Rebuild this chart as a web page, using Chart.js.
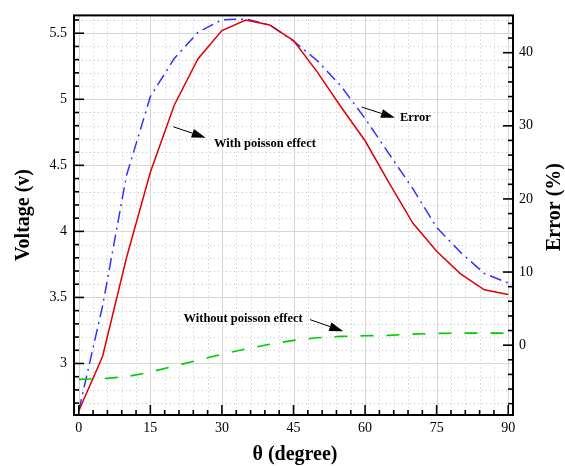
<!DOCTYPE html>
<html><head><meta charset="utf-8">
<script src="https://cdn.jsdelivr.net/npm/chart.js@4.4.0/dist/chart.umd.min.js"></script>
<style>html,body{margin:0;padding:0;background:#fff}#wrap{width:565px;height:466px}</style>
</head><body><div id="wrap"><canvas id="c" width="565" height="466"></canvas></div>
<script>
// ---- data ----
const theta          = [0, 5, 10, 15, 20, 25, 30, 35, 40, 45, 50, 55, 60, 65, 70, 75, 80, 85, 90];
const withPoisson    = [2.64, 3.055, 3.80, 4.447, 4.955, 5.307, 5.52, 5.60, 5.563, 5.445, 5.206, 4.94, 4.686, 4.37, 4.063, 3.849, 3.678, 3.558, 3.522];
const withoutPoisson = [2.88, 2.885, 2.90, 2.935, 2.98, 3.025, 3.07, 3.11, 3.145, 3.175, 3.195, 3.205, 3.21, 3.213, 3.222, 3.228, 3.23, 3.23, 3.23];
const errorPct       = [-8.97, 5.4, 23.2, 34.0, 39.2, 42.8, 44.5, 44.6, 43.8, 41.6, 38.9, 35.4, 31.0, 26.2, 21.4, 16.1, 12.7, 9.8, 8.5];
const xTickLabels    = [0, 15, 30, 45, 60, 75, 90];
const voltTickLabels = [3, 3.5, 4, 4.5, 5, 5.5];
const errTickLabels  = [0, 10, 20, 30, 40];

const SERIF = '"Liberation Serif", "Times New Roman", serif';

const annotations = [
  {text: 'With poisson effect',    tx: 28.34, ty: 4.664, x1: 19.81, y1: 4.792, x2: 26.6,  y2: 4.709},
  {text: 'Error',                  tx: 67.3,  ty: 4.860, x1: 59.29, y1: 4.941, x2: 66.26, y2: 4.860},
  {text: 'Without poisson effect', tx: 21.95, ty: 3.342, x1: 48.46, y1: 3.332, x2: 55.43, y2: 3.244}
];

function steps(a, b, s) { const r = []; const n = Math.round((b - a) / s); for (let i = 0; i <= n; i++) r.push(+(a + i * s).toFixed(6)); return r; }
function isMajor(v, list) { return list.some(m => Math.abs(m - v) < 1e-6); }

const gridPlugin = {
  id: 'customGrid',
  beforeDatasetsDraw(chart) {
    const {ctx, chartArea: a, scales} = chart;
    const x = scales.x, yL = scales.yL;
    ctx.save();
    ctx.lineWidth = 1;
    const hl = (px) => { ctx.beginPath(); ctx.moveTo(a.left, px); ctx.lineTo(a.right, px); ctx.stroke(); };
    const vl = (px) => { ctx.beginPath(); ctx.moveTo(px, a.top); ctx.lineTo(px, a.bottom); ctx.stroke(); };
    // minor dotted
    ctx.strokeStyle = '#c4c4c4';
    ctx.setLineDash([1, 3]);
    steps(0, 90, 3).forEach(v => { if (!isMajor(v, xTickLabels)) vl(Math.round(x.getPixelForValue(v)) + 0.5); });
    steps(2.7, 5.6, 0.1).forEach(v => { if (!isMajor(v, voltTickLabels)) hl(Math.round(yL.getPixelForValue(v)) + 0.5); });
    // major solid
    ctx.setLineDash([]);
    ctx.strokeStyle = '#d6d6d6';
    xTickLabels.forEach(v => vl(Math.round(x.getPixelForValue(v)) + 0.5));
    voltTickLabels.forEach(v => hl(Math.round(yL.getPixelForValue(v)) + 0.5));
    ctx.restore();
  },
  afterDatasetsDraw(chart) {
    const {ctx, chartArea: a, scales} = chart;
    const x = scales.x, yL = scales.yL, yR = scales.yR;
    ctx.save();
    ctx.strokeStyle = '#000';
    ctx.lineWidth = 1.6;
    const seg = (x1, y1, x2, y2) => { ctx.beginPath(); ctx.moveTo(x1, y1); ctx.lineTo(x2, y2); ctx.stroke(); };
    steps(0, 90, 3).forEach(v => { const p = x.getPixelForValue(v); const L = isMajor(v, xTickLabels) ? 10 : 5; seg(p, a.bottom, p, a.bottom - L); });
    steps(2.7, 5.6, 0.1).forEach(v => { const p = yL.getPixelForValue(v); const L = isMajor(v, voltTickLabels) ? 10 : 5; seg(a.left, p, a.left + L, p); });
    steps(-8, 44, 2).forEach(v => { const p = yR.getPixelForValue(v); const L = isMajor(v, errTickLabels) ? 10 : 5; seg(a.right, p, a.right - L, p); });
    ctx.lineWidth = 2;
    ctx.strokeRect(a.left, a.top, a.right - a.left, a.bottom - a.top);
    ctx.restore();
  },
  afterDraw(chart) {
    const {ctx, scales} = chart;
    const x = scales.x, yL = scales.yL;
    ctx.save();
    ctx.fillStyle = '#000';
    ctx.strokeStyle = '#000';
    ctx.font = 'bold 12.5px ' + SERIF;
    ctx.textBaseline = 'middle';
    ctx.textAlign = 'left';
    annotations.forEach(an => {
      ctx.fillText(an.text, x.getPixelForValue(an.tx), yL.getPixelForValue(an.ty));
      const sx = x.getPixelForValue(an.x1), sy = yL.getPixelForValue(an.y1);
      const ex = x.getPixelForValue(an.x2), ey = yL.getPixelForValue(an.y2);
      const ang = Math.atan2(ey - sy, ex - sx);
      const hl = 14, hw = 4.5;
      const bx = ex - hl * Math.cos(ang), by = ey - hl * Math.sin(ang);
      ctx.lineWidth = 1;
      ctx.beginPath(); ctx.moveTo(sx, sy); ctx.lineTo(bx, by); ctx.stroke();
      ctx.beginPath();
      ctx.moveTo(ex, ey);
      ctx.lineTo(bx + hw * Math.sin(ang), by - hw * Math.cos(ang));
      ctx.lineTo(bx - hw * Math.sin(ang), by + hw * Math.cos(ang));
      ctx.closePath(); ctx.fill();
    });
    ctx.font = 'bold 20px ' + SERIF;
    ctx.textAlign = 'center';
    ctx.textBaseline = 'middle';
    ctx.fillText('\u03B8 (degree)', 295, 455);
    ctx.save(); ctx.translate(24, 215); ctx.rotate(-Math.PI / 2); ctx.fillText('Voltage (v)', 0, 0); ctx.restore();
    ctx.save(); ctx.translate(555, 207); ctx.rotate(-Math.PI / 2); ctx.fillText('Error (%)', 0, 0); ctx.restore();
    ctx.restore();
  }
};

const tickFont = {family: SERIF, size: 14};
const mk = (arr) => arr.map(v => ({value: v}));
const fmt = (v) => String(v);

new Chart(document.getElementById('c'), {
  type: 'line',
  data: {
    datasets: [
      {label: 'With poisson effect', data: theta.map((t, i) => ({x: t, y: withPoisson[i]})), yAxisID: 'yL',
       borderColor: 'rgb(225,0,0)', borderWidth: 1.5, pointRadius: 0, tension: 0, fill: false},
      {label: 'Without poisson effect', data: theta.map((t, i) => ({x: t, y: withoutPoisson[i]})), yAxisID: 'yL',
       borderColor: 'rgb(0,205,0)', borderWidth: 1.6, borderDash: [13, 13], pointRadius: 0, tension: 0, fill: false},
      {label: 'Error', data: theta.map((t, i) => ({x: t, y: errorPct[i]})), yAxisID: 'yR',
       borderColor: 'rgb(50,50,255)', borderWidth: 1.5, borderDash: [12, 5, 2, 5], pointRadius: 0, tension: 0, fill: false}
    ]
  },
  options: {
    responsive: false,
    animation: false,
    devicePixelRatio: 1,
    layout: {padding: {top: 14, left: 0, right: 0, bottom: 0}},
    plugins: {legend: {display: false}, tooltip: {enabled: false}},
    scales: {
      x: {
        type: 'linear', position: 'bottom', min: -1, max: 91,
        grid: {display: false, drawTicks: false}, border: {display: false},
        ticks: {font: tickFont, color: '#000', padding: 5, maxRotation: 0, autoSkip: false, callback: fmt},
        afterBuildTicks: s => { s.ticks = mk(xTickLabels); },
        afterFit: s => { s.height = 51; }
      },
      yL: {
        type: 'linear', position: 'left', min: 2.61, max: 5.635,
        grid: {display: false, drawTicks: false}, border: {display: false},
        ticks: {font: tickFont, color: '#000', padding: 7, autoSkip: false, callback: fmt},
        afterBuildTicks: s => { s.ticks = mk(voltTickLabels); },
        afterFit: s => { s.width = 74; }
      },
      yR: {
        type: 'linear', position: 'right', min: -9.55, max: 45.1,
        grid: {display: false, drawTicks: false}, border: {display: false},
        ticks: {font: tickFont, color: '#000', padding: 6, autoSkip: false, callback: fmt},
        afterBuildTicks: s => { s.ticks = mk(errTickLabels); },
        afterFit: s => { s.width = 52; }
      }
    }
  },
  plugins: [gridPlugin]
});
</script>
</body></html>
